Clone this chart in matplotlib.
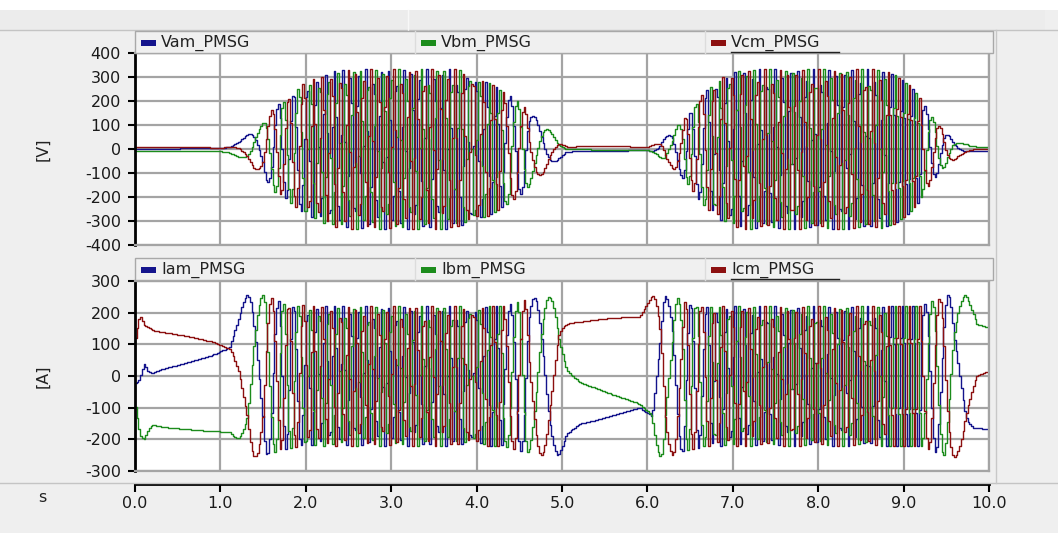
import numpy as np
import matplotlib
matplotlib.use("Agg")
import matplotlib.pyplot as plt
from matplotlib.patches import Rectangle
from matplotlib.lines import Line2D

# ---------------- data ----------------
# recorder output step (s)
sample_step = 0.0204
t_end = 10.0

# electrical angle (degrees) at key instants
phase_t = [0.00, 0.05, 0.10, 0.15, 0.20, 0.30, 0.60, 0.90, 1.10, 1.20, 1.31, 1.40,
           1.49, 1.59, 1.67, 2.00, 2.40, 3.80, 4.30, 4.60, 4.75, 4.84, 4.95, 5.05,
           5.20, 5.90, 6.05, 6.15, 6.20, 6.29, 6.40, 6.70, 7.10, 8.80, 9.20, 9.41,
           9.50, 9.58, 9.72, 9.85, 10.0]
phase_deg = [100, 92, 79, 86, 87, 83, 76, 68, 59, 35, 0, -60,
             -120, -240, -360, -1043, -2411, -8070, -9600, -10032, -10140, -10200, -10260, -10285,
             -10296, -10318, -10320, -10380, -10440, -10500, -10619, -11186, -12504, -19286, -20460, -20760,
             -20870, -20940, -21000, -21030, -21035]

# phase-current amplitude (A)
cur_amp_t = [0.00, 0.05, 0.10, 0.15, 0.20, 0.30, 1.10, 1.20, 1.30, 1.50, 1.65, 1.80, 2.00,
             4.30, 4.50, 4.70, 4.95, 5.05, 5.20, 5.90, 6.00, 6.05, 6.30, 6.50, 6.70,
             9.20, 9.40, 9.50, 9.72, 9.85, 10.0]
cur_amp = [128, 217, 212, 187, 173, 174, 176, 215, 255, 255, 240, 228, 222,
           222, 235, 250, 250, 200, 187, 187, 230, 255, 250, 232, 222,
           222, 245, 255, 255, 190, 185]

# phase-voltage amplitude (V)
volt_amp_t = [0.00, 1.00, 1.10, 1.23, 1.35, 1.47, 1.63, 1.75, 1.83, 1.95, 2.18, 2.37, 2.60,
              3.75, 3.90, 4.05, 4.20, 4.35, 4.50, 4.65, 4.80, 4.95, 5.05,
              6.00, 6.10, 6.20, 6.35, 6.50, 6.63, 6.79, 6.94, 7.14,
              8.70, 8.89, 9.08, 9.16, 9.29, 9.40, 9.52, 9.67, 9.80, 10.0]
volt_amp = [10, 10, 15, 40, 70, 100, 180, 205, 230, 270, 305, 330, 335,
            335, 320, 295, 265, 230, 190, 140, 90, 40, 12,
            10, 25, 50, 100, 160, 230, 280, 315, 335,
            335, 310, 260, 225, 150, 100, 55, 25, 12, 10]

volt_names = ["Vam_PMSG", "Vbm_PMSG", "Vcm_PMSG"]
cur_names = ["Iam_PMSG", "Ibm_PMSG", "Icm_PMSG"]
phase_shift_deg = [0, 120, -120]
colors = ["#14148c", "#1c8c1c", "#8c1010"]

volt_ticks = [-400, -300, -200, -100, 0, 100, 200, 300, 400]
cur_ticks = [-300, -200, -100, 0, 100, 200, 300]
time_ticks = [0, 1, 2, 3, 4, 5, 6, 7, 8, 9, 10]
time_labels = ["0.0", "1.0", "2.0", "3.0", "4.0", "5.0", "6.0", "7.0", "8.0", "9.0", "10.0"]

# ---------------- signals ----------------
t = np.arange(0, t_end + 1e-9, sample_step)
theta = np.deg2rad(np.interp(t, phase_t, phase_deg))
Ai = np.interp(t, cur_amp_t, cur_amp)
Av = np.interp(t, volt_amp_t, volt_amp)
currents = [Ai * np.cos(theta + np.deg2rad(s)) for s in phase_shift_deg]
voltages = [Av * np.cos(theta + np.deg2rad(s)) for s in phase_shift_deg]

# ---------------- figure ----------------
W, H = 1058, 533
fig = plt.figure(figsize=(W / 100, H / 100), dpi=100, facecolor="#efefef")
FONT = "DejaVu Sans"
FS = 11.5


def rect(x0, y0, x1, y1):
    return [x0 / W, 1 - y1 / H, (x1 - x0) / W, (y1 - y0) / H]


def fx(x):
    return x / W


def fy(y):
    return 1 - y / H


# background decorations
fig.add_artist(Rectangle((0, fy(10)), 1, fy(0) - fy(10), transform=fig.transFigure,
                         facecolor="white", edgecolor="none", zorder=0))
fig.add_artist(Rectangle((fx(0), fy(30)), fx(1045), fy(10) - fy(30), transform=fig.transFigure,
                         facecolor="#ececec", edgecolor="none", zorder=0))
for yy in (30, 483):
    fig.add_artist(Line2D([0, 1], [fy(yy), fy(yy)], transform=fig.transFigure,
                          color="#c4c4c4", lw=1.0, zorder=1))
fig.add_artist(Line2D([fx(408), fx(408)], [fy(10), fy(30)], transform=fig.transFigure,
                      color="#f8f8f8", lw=1.0, zorder=1))
fig.add_artist(Line2D([fx(996), fx(996)], [fy(30), fy(483)], transform=fig.transFigure,
                      color="#c8c8c8", lw=1.0, zorder=1))


def legend_bar(ytop, ybot, names):
    fig.add_artist(Rectangle((fx(135), fy(ybot)), fx(993) - fx(135), fy(ytop) - fy(ybot),
                             transform=fig.transFigure, facecolor="#f0f0f0",
                             edgecolor="#a8a8a8", lw=1.0, zorder=2))
    cells = [135, 415, 705]
    for i, (cx, name) in enumerate(zip(cells, names)):
        if i > 0:
            fig.add_artist(Line2D([fx(cx), fx(cx)], [fy(ytop), fy(ybot)],
                                  transform=fig.transFigure, color="#dcdcdc", lw=1.0, zorder=3))
        ym = (ytop + ybot) / 2 + 1
        fig.add_artist(Rectangle((fx(cx + 6), fy(ym + 3)), 15 / W, 6 / H,
                                 transform=fig.transFigure, facecolor=colors[i],
                                 edgecolor="none", zorder=3))
        fig.text(fx(cx + 26), fy(ym), name, ha="left", va="center",
                 fontsize=FS, family=FONT, color="#222222", zorder=4)
        if i == 2:
            fig.add_artist(Line2D([fx(cx + 26), fx(cx + 134)], [fy(ym + 9), fy(ym + 9)],
                                  transform=fig.transFigure, color="#222222", lw=1.0, zorder=4))


def style_axis(ax, ylim, yticks, ylabel):
    ax.set_xlim(0, 10)
    ax.set_ylim(*ylim)
    ax.set_facecolor("white")
    ax.set_xticks(time_ticks)
    ax.set_xticklabels([])
    ax.set_yticks(yticks)
    ax.set_yticklabels([str(v) for v in yticks], fontsize=FS, family=FONT, color="#1a1a1a")
    ax.tick_params(axis="x", length=0)
    ax.tick_params(axis="y", length=5, width=1.5, color="black", pad=5)
    ax.grid(True, color="#a4a4a4", lw=1.6)
    ax.set_axisbelow(True)
    for s in ("top", "right", "bottom"):
        ax.spines[s].set_color("#a4a4a4")
        ax.spines[s].set_linewidth(1.6)
    ax.spines["left"].set_color("black")
    ax.spines["left"].set_linewidth(2.0)
    ax.set_ylabel(ylabel, fontsize=FS, family=FONT, color="#222222")
    ax.yaxis.set_label_coords(fx(50 - 135) / fx(989 - 135), 0.5)


ax1 = fig.add_axes(rect(135, 53, 989, 245))
legend_bar(31, 53, volt_names)
for sig, c in zip(voltages, colors):
    ax1.plot(t, sig, color=c, lw=1.0, drawstyle="steps-post")
style_axis(ax1, (-400, 400), volt_ticks, "[V]")

ax2 = fig.add_axes(rect(135, 281, 989, 471))
legend_bar(258, 280, cur_names)
for sig, c in zip(currents, colors):
    ax2.plot(t, sig, color=c, lw=1.0, drawstyle="steps-post")
style_axis(ax2, (-300, 300), cur_ticks, "[A]")

# time axis
ax3 = fig.add_axes(rect(135, 482, 989, 484))
ax3.set_xlim(0, 10)
ax3.set_facecolor("none")
for s in ("top", "right", "left"):
    ax3.spines[s].set_visible(False)
ax3.spines["bottom"].set_linewidth(2.0)
ax3.spines["bottom"].set_color("black")
ax3.set_yticks([])
ax3.set_xticks(time_ticks)
ax3.set_xticklabels(time_labels, fontsize=FS, family=FONT, color="#1a1a1a")
ax3.tick_params(axis="x", length=6, width=1.5, color="black", pad=3)
fig.text(fx(42), fy(497), "s", ha="center", va="center", fontsize=FS, family=FONT, color="#222222")

fig.savefig("out.png", dpi=100, facecolor=fig.get_facecolor())
